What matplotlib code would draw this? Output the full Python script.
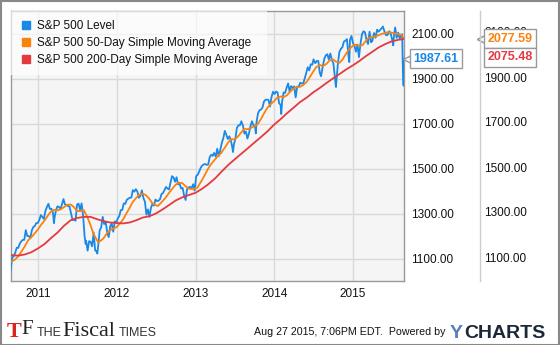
import pandas as pd
import matplotlib
matplotlib.use("Agg")
from matplotlib import pyplot as plt
from matplotlib import transforms
from matplotlib.lines import Line2D
from matplotlib.patches import Rectangle
from matplotlib.ticker import FormatStrFormatter

plt.rcParams['font.family'] = ['Liberation Sans', 'DejaVu Sans']

# S&P 500 closing level, roughly weekly, Aug 2010 - Aug 2015
level_dates = [
    "2010-08-26", "2010-09-03", "2010-09-10", "2010-09-17", "2010-09-24", "2010-10-01", "2010-10-08",
    "2010-10-15", "2010-10-22", "2010-10-29", "2010-11-05", "2010-11-12", "2010-11-19", "2010-11-26",
    "2010-12-03", "2010-12-10", "2010-12-17", "2010-12-23", "2010-12-31",
    "2011-01-07", "2011-01-14", "2011-01-21", "2011-01-28", "2011-02-04", "2011-02-11", "2011-02-18",
    "2011-02-25", "2011-03-04", "2011-03-11", "2011-03-16", "2011-03-18", "2011-03-25", "2011-04-01",
    "2011-04-08", "2011-04-15", "2011-04-21", "2011-04-29", "2011-05-06", "2011-05-13", "2011-05-20",
    "2011-05-27", "2011-06-03", "2011-06-10", "2011-06-17", "2011-06-24", "2011-07-01", "2011-07-08",
    "2011-07-15", "2011-07-22", "2011-07-29", "2011-08-05", "2011-08-10", "2011-08-12", "2011-08-19",
    "2011-08-26", "2011-09-02", "2011-09-09", "2011-09-16", "2011-09-23", "2011-09-30", "2011-10-03",
    "2011-10-07", "2011-10-14", "2011-10-21", "2011-10-28", "2011-11-04", "2011-11-11", "2011-11-18",
    "2011-11-25", "2011-12-02", "2011-12-09", "2011-12-16", "2011-12-23", "2011-12-30",
    "2012-01-06", "2012-01-13", "2012-01-20", "2012-01-27", "2012-02-03", "2012-02-10", "2012-02-17",
    "2012-02-24", "2012-03-02", "2012-03-09", "2012-03-16", "2012-03-23", "2012-03-30", "2012-04-06",
    "2012-04-13", "2012-04-20", "2012-04-27", "2012-05-04", "2012-05-11", "2012-05-18", "2012-05-25",
    "2012-06-01", "2012-06-08", "2012-06-15", "2012-06-22", "2012-06-29", "2012-07-06", "2012-07-13",
    "2012-07-20", "2012-07-27", "2012-08-03", "2012-08-10", "2012-08-17", "2012-08-24", "2012-08-31",
    "2012-09-07", "2012-09-14", "2012-09-21", "2012-09-28", "2012-10-05", "2012-10-12", "2012-10-19",
    "2012-10-26", "2012-11-02", "2012-11-09", "2012-11-16", "2012-11-23", "2012-11-30", "2012-12-07",
    "2012-12-14", "2012-12-21", "2012-12-28",
    "2013-01-04", "2013-01-11", "2013-01-18", "2013-01-25", "2013-02-01", "2013-02-08", "2013-02-15",
    "2013-02-22", "2013-03-01", "2013-03-08", "2013-03-15", "2013-03-22", "2013-03-28", "2013-04-05",
    "2013-04-12", "2013-04-19", "2013-04-26", "2013-05-03", "2013-05-10", "2013-05-17", "2013-05-24",
    "2013-05-31", "2013-06-07", "2013-06-14", "2013-06-21", "2013-06-24", "2013-06-28", "2013-07-05",
    "2013-07-12", "2013-07-19", "2013-07-26", "2013-08-02", "2013-08-09", "2013-08-16", "2013-08-23",
    "2013-08-30", "2013-09-06", "2013-09-13", "2013-09-20", "2013-09-27", "2013-10-04", "2013-10-08",
    "2013-10-11", "2013-10-18", "2013-10-25", "2013-11-01", "2013-11-08", "2013-11-15", "2013-11-22",
    "2013-11-29", "2013-12-06", "2013-12-13", "2013-12-20", "2013-12-27",
    "2014-01-03", "2014-01-10", "2014-01-17", "2014-01-24", "2014-01-31", "2014-02-03", "2014-02-07",
    "2014-02-14", "2014-02-21", "2014-02-28", "2014-03-07", "2014-03-14", "2014-03-21", "2014-03-28",
    "2014-04-04", "2014-04-11", "2014-04-18", "2014-04-25", "2014-05-02", "2014-05-09", "2014-05-16",
    "2014-05-23", "2014-05-30", "2014-06-06", "2014-06-13", "2014-06-20", "2014-06-27", "2014-07-03",
    "2014-07-11", "2014-07-18", "2014-07-25", "2014-08-01", "2014-08-07", "2014-08-15", "2014-08-22",
    "2014-08-29", "2014-09-05", "2014-09-12", "2014-09-19", "2014-09-26", "2014-10-03", "2014-10-10",
    "2014-10-15", "2014-10-17", "2014-10-24", "2014-10-31", "2014-11-07", "2014-11-14", "2014-11-21",
    "2014-11-28", "2014-12-05", "2014-12-12", "2014-12-16", "2014-12-19", "2014-12-26",
    "2015-01-02", "2015-01-09", "2015-01-16", "2015-01-23", "2015-01-30", "2015-02-06", "2015-02-13",
    "2015-02-20", "2015-02-27", "2015-03-06", "2015-03-13", "2015-03-20", "2015-03-27", "2015-04-02",
    "2015-04-10", "2015-04-17", "2015-04-24", "2015-05-01", "2015-05-08", "2015-05-15", "2015-05-21",
    "2015-05-29", "2015-06-05", "2015-06-12", "2015-06-19", "2015-06-26", "2015-07-02", "2015-07-08",
    "2015-07-10", "2015-07-17", "2015-07-24", "2015-07-31", "2015-08-07", "2015-08-14", "2015-08-18",
    "2015-08-19", "2015-08-20", "2015-08-21", "2015-08-24", "2015-08-25", "2015-08-26", "2015-08-27",
]
level_values = [
    1047, 1104, 1110, 1126, 1148, 1147, 1166,
    1176, 1183, 1183, 1226, 1200, 1200, 1190,
    1225, 1240, 1244, 1257, 1258,
    1272, 1293, 1284, 1276, 1311, 1329, 1343,
    1320, 1321, 1304, 1257, 1279, 1314, 1332,
    1329, 1320, 1338, 1364, 1340, 1338, 1333,
    1331, 1300, 1271, 1272, 1268, 1340, 1344,
    1316, 1345, 1292, 1199, 1165, 1179, 1135,
    1177, 1174, 1154, 1216, 1136, 1131, 1122,
    1155, 1225, 1238, 1285, 1253, 1264, 1216,
    1195, 1244, 1255, 1219, 1265, 1258,
    1278, 1289, 1315, 1316, 1345, 1343, 1361,
    1366, 1370, 1371, 1404, 1397, 1408, 1398,
    1370, 1378, 1403, 1369, 1353, 1295, 1318,
    1285, 1325, 1343, 1335, 1362, 1355, 1357,
    1363, 1386, 1391, 1405, 1418, 1411, 1407,
    1438, 1466, 1460, 1441, 1461, 1429, 1433,
    1411, 1414, 1380, 1360, 1409, 1416, 1418,
    1413, 1430, 1402,
    1466, 1472, 1486, 1503, 1513, 1518, 1520,
    1516, 1518, 1551, 1561, 1556, 1569, 1553,
    1588, 1555, 1582, 1614, 1634, 1667, 1650,
    1631, 1643, 1626, 1593, 1573, 1606, 1632,
    1680, 1692, 1692, 1710, 1691, 1655, 1664,
    1633, 1655, 1688, 1710, 1692, 1691, 1656,
    1703, 1745, 1759, 1762, 1771, 1798, 1805,
    1806, 1805, 1775, 1818, 1841,
    1831, 1842, 1838, 1790, 1783, 1742, 1797,
    1838, 1836, 1859, 1878, 1841, 1866, 1857,
    1865, 1816, 1864, 1863, 1881, 1878, 1878,
    1900, 1924, 1950, 1936, 1963, 1961, 1985,
    1968, 1978, 1978, 1925, 1910, 1955, 1988,
    2003, 2008, 1985, 2011, 1982, 1968, 1906,
    1862, 1887, 1965, 2018, 2032, 2039, 2064,
    2068, 2075, 2003, 1973, 2071, 2089,
    2058, 2045, 2019, 2051, 1995, 2055, 2097,
    2110, 2105, 2071, 2053, 2108, 2061, 2067,
    2102, 2081, 2117, 2108, 2116, 2123, 2131,
    2107, 2092, 2094, 2110, 2101, 2077, 2047,
    2077, 2127, 2080, 2104, 2078, 2092, 2097,
    2079, 2036, 1971, 1893, 1868, 1940, 1987.61,
]

# 50-day simple moving average
sma50_dates = [
    "2010-08-26", "2010-09-15", "2010-10-01", "2010-10-15", "2010-11-01", "2010-11-15", "2010-12-01",
    "2010-12-15", "2011-01-01", "2011-01-15", "2011-02-01", "2011-02-15", "2011-03-01", "2011-03-15",
    "2011-04-01", "2011-04-15", "2011-05-01", "2011-05-15", "2011-06-01", "2011-06-15", "2011-07-01",
    "2011-07-15", "2011-08-01", "2011-08-15", "2011-09-01", "2011-09-15", "2011-10-07", "2011-10-20",
    "2011-11-01", "2011-11-15", "2011-12-01", "2011-12-15", "2012-01-01", "2012-01-15", "2012-02-01",
    "2012-02-15", "2012-03-01", "2012-03-15", "2012-04-01", "2012-04-15", "2012-05-01", "2012-05-15",
    "2012-06-01", "2012-06-15", "2012-07-10", "2012-08-01", "2012-08-15", "2012-09-01", "2012-09-15",
    "2012-10-01", "2012-10-15", "2012-11-01", "2012-11-15", "2012-12-01", "2012-12-20", "2013-01-10",
    "2013-02-01", "2013-02-15", "2013-03-01", "2013-03-15", "2013-04-01", "2013-04-15", "2013-05-01",
    "2013-05-15", "2013-06-01", "2013-06-15", "2013-07-01", "2013-07-15", "2013-08-01", "2013-08-15",
    "2013-09-01", "2013-09-15", "2013-10-01", "2013-10-15", "2013-11-01", "2013-11-15", "2013-12-01",
    "2013-12-15", "2014-01-01", "2014-01-15", "2014-02-01", "2014-02-15", "2014-03-01", "2014-03-15",
    "2014-04-01", "2014-04-15", "2014-05-01", "2014-05-15", "2014-06-01", "2014-06-15", "2014-07-01",
    "2014-07-15", "2014-08-01", "2014-08-15", "2014-09-01", "2014-09-15", "2014-10-01", "2014-10-15",
    "2014-11-01", "2014-11-15", "2014-12-01", "2014-12-15", "2015-01-01", "2015-01-15", "2015-02-01",
    "2015-02-15", "2015-03-01", "2015-03-15", "2015-04-01", "2015-04-15", "2015-05-01", "2015-05-15",
    "2015-06-01", "2015-06-15", "2015-07-01", "2015-07-15", "2015-08-01", "2015-08-15", "2015-08-27",
]
sma50_values = [
    1084, 1095, 1110, 1130, 1155, 1180, 1195,
    1210, 1230, 1250, 1270, 1290, 1308, 1316,
    1314, 1318, 1328, 1338, 1340, 1330, 1312,
    1310, 1315, 1290, 1250, 1210, 1172, 1180,
    1190, 1210, 1225, 1233, 1240, 1255, 1275,
    1300, 1325, 1350, 1370, 1383, 1388, 1382,
    1365, 1345, 1333, 1355, 1370, 1393, 1410,
    1428, 1437, 1435, 1422, 1410, 1408, 1415,
    1450, 1475, 1500, 1520, 1540, 1555, 1570,
    1590, 1615, 1630, 1630, 1640, 1660, 1675,
    1675, 1680, 1688, 1695, 1720, 1745, 1770,
    1785, 1800, 1815, 1820, 1818, 1825, 1840,
    1855, 1862, 1863, 1870, 1885, 1905, 1930,
    1950, 1960, 1955, 1965, 1980, 1985, 1975,
    1970, 1985, 2010, 2030, 2045, 2050, 2045,
    2048, 2065, 2080, 2085, 2087, 2092, 2098,
    2103, 2106, 2104, 2100, 2097, 2094, 2077.59,
]

# 200-day simple moving average
sma200_dates = [
    "2010-08-26", "2010-10-01", "2010-11-01", "2010-12-01", "2011-01-01", "2011-02-01", "2011-03-01",
    "2011-04-01", "2011-05-01", "2011-06-01", "2011-07-01", "2011-08-01", "2011-09-01", "2011-10-01",
    "2011-11-01", "2011-12-01", "2012-01-01", "2012-02-01", "2012-03-01", "2012-04-01", "2012-05-01",
    "2012-06-01", "2012-07-01", "2012-08-01", "2012-09-01", "2012-10-01", "2012-11-01", "2012-12-01",
    "2013-01-01", "2013-02-01", "2013-03-01", "2013-04-01", "2013-05-01", "2013-06-01", "2013-07-01",
    "2013-08-01", "2013-09-01", "2013-10-01", "2013-11-01", "2013-12-01", "2014-01-01", "2014-02-01",
    "2014-03-01", "2014-04-01", "2014-05-01", "2014-06-01", "2014-07-01", "2014-08-01", "2014-09-01",
    "2014-10-01", "2014-11-01", "2014-12-01", "2015-01-01", "2015-02-01", "2015-03-01", "2015-04-01",
    "2015-05-01", "2015-06-01", "2015-07-01", "2015-08-01", "2015-08-27",
]
sma200_values = [
    1115, 1113, 1118, 1128, 1145, 1165, 1190,
    1215, 1245, 1270, 1280, 1285, 1285, 1275,
    1266, 1260, 1258, 1256, 1260, 1270, 1282,
    1288, 1300, 1318, 1338, 1358, 1372, 1382,
    1392, 1410, 1430, 1455, 1485, 1515, 1540,
    1565, 1590, 1615, 1640, 1665, 1695, 1720,
    1745, 1770, 1795, 1815, 1838, 1858, 1880,
    1900, 1920, 1940, 1958, 1978, 1998, 2018,
    2038, 2053, 2065, 2072, 2075.48,
]

series_names = ["S&P 500 Level",
                "S&P 500 50-Day Simple Moving Average",
                "S&P 500 200-Day Simple Moving Average"]
series_colors = ["#1a88e6", "#fa820f", "#e43a3f"]

y_ticks = [1100, 1300, 1500, 1700, 1900, 2100]
x_ticks = ["2011", "2012", "2013", "2014", "2015"]

W, H = 560, 345
fig = plt.figure(figsize=(W / 100, H / 100), dpi=100)
fig.patch.set_facecolor("white")

left, right, top, bottom = 10.5, 404, 11, 281
ax = fig.add_axes([left / W, 1 - bottom / H, (right - left) / W, (bottom - top) / H])
ax.set_facecolor("#f5f5f5")

lvl_x = pd.to_datetime(level_dates)
ax.plot(lvl_x, level_values, color=series_colors[0], lw=1.3, zorder=3)
ax.plot(pd.to_datetime(sma50_dates), sma50_values, color=series_colors[1], lw=1.3, zorder=4)
ax.plot(pd.to_datetime(sma200_dates), sma200_values, color=series_colors[2], lw=1.3, zorder=4)

ax.set_xlim(lvl_x[0], lvl_x[-1])
ax.set_ylim(1000, 2200)
ax.set_yticks(y_ticks)
ax.yaxis.set_major_formatter(FormatStrFormatter("%.2f"))
ax.set_xticks(pd.to_datetime([y + "-01-01" for y in x_ticks]))
ax.set_xticklabels(x_ticks)
ax.grid(True, color="#d9d9d9", lw=1)
ax.set_axisbelow(True)
ax.tick_params(length=0, labelsize=8.5, colors="#111111", pad=5)
ax.tick_params(axis="y", labelleft=False, labelright=True, pad=5)
for s in ax.spines.values():
    s.set_color("#999999")
    s.set_linewidth(1)

# second price column to the right of a thin separator
sep_x = 479.5 / W
fig.add_artist(Line2D([sep_x, sep_x], [1 - bottom / H, 1 - top / H], color="#cccccc", lw=1))
blend = transforms.blended_transform_factory(fig.transFigure, ax.transData)
for v in y_ticks:
    ax.text(484 / W, v, f"{v:.2f}", transform=blend, fontsize=8.5, color="#111111",
            va="center", ha="left", clip_on=False)

# legend
handles = [Line2D([], [], ls="none", marker="s", markersize=6, color=c) for c in series_colors]
leg = ax.legend(handles, series_names, loc="upper left", fontsize=8.5, frameon=True,
                fancybox=False, borderaxespad=0, borderpad=0.75, labelspacing=0.42,
                handletextpad=0.3, handlelength=1.2, framealpha=0.65)
leg.get_frame().set_facecolor("white")
leg.get_frame().set_edgecolor("none")
for t in leg.get_texts():
    t.set_color("#111111")


# last-value callouts
def callout(x_px, value, text, color, dy=0):
    ax.plot([x_px / W - 1.5 / W], [value], transform=blend, marker="<", markersize=7,
            markerfacecolor="white", markeredgecolor="#999999", markeredgewidth=1,
            clip_on=False, zorder=5, ls="none")
    ax.annotate(text, xy=(x_px / W, value), xycoords=blend, xytext=(3, dy),
                textcoords="offset points", ha="left", va="center", fontsize=9,
                fontweight="bold", color=color, annotation_clip=False, zorder=6,
                bbox=dict(boxstyle="square,pad=0.28", fc="white", ec="#999999", lw=1))


callout(409, level_values[-1], f"{level_values[-1]:.2f}", series_colors[0])
callout(483, sma50_values[-1], f"{sma50_values[-1]:.2f}", series_colors[1])
callout(483, sma200_values[-1], f"{sma200_values[-1]:.2f}", series_colors[2], dy=-13.3)

# footer: publisher mark and credit line
fy = 1 - 332 / H
fig.text(7 / W, fy, "T", fontsize=16, color="#d8261c", family="Liberation Serif",
         fontweight="bold", va="center", ha="left")
fig.text(21 / W, fy + 2 / H, "F", fontsize=15, color="#222222", family="Liberation Serif",
         va="center", ha="left")
fig.text(37 / W, fy - 1 / H, "THE", fontsize=9, color="#333333", va="center", ha="left")
fig.text(62 / W, fy, "Fiscal", fontsize=16, color="#222222", family="Liberation Serif",
         va="center", ha="left")
fig.text(119 / W, fy - 1 / H, "TIMES", fontsize=9, color="#333333", va="center", ha="left")

fig.text(254 / W, fy, "Aug 27 2015, 7:06PM EDT.  Powered by", fontsize=7.7, color="#111111",
         va="center", ha="left")
fig.text(450 / W, 1 - 333 / H, "Y", fontsize=14, fontweight="bold", color="#5a7db8",
         va="center", ha="left")
fig.text(464 / W, 1 - 333 / H, "CHARTS", fontsize=14, fontweight="bold", color="#1c2837",
         va="center", ha="left")

# outer frame
fig.add_artist(Rectangle((0.5 / W, 0.5 / H), 1 - 1.5 / W, 1 - 1.5 / H, transform=fig.transFigure,
                         fill=False, ec="#888888", lw=1.5))

fig.savefig("out.png", dpi=100)
